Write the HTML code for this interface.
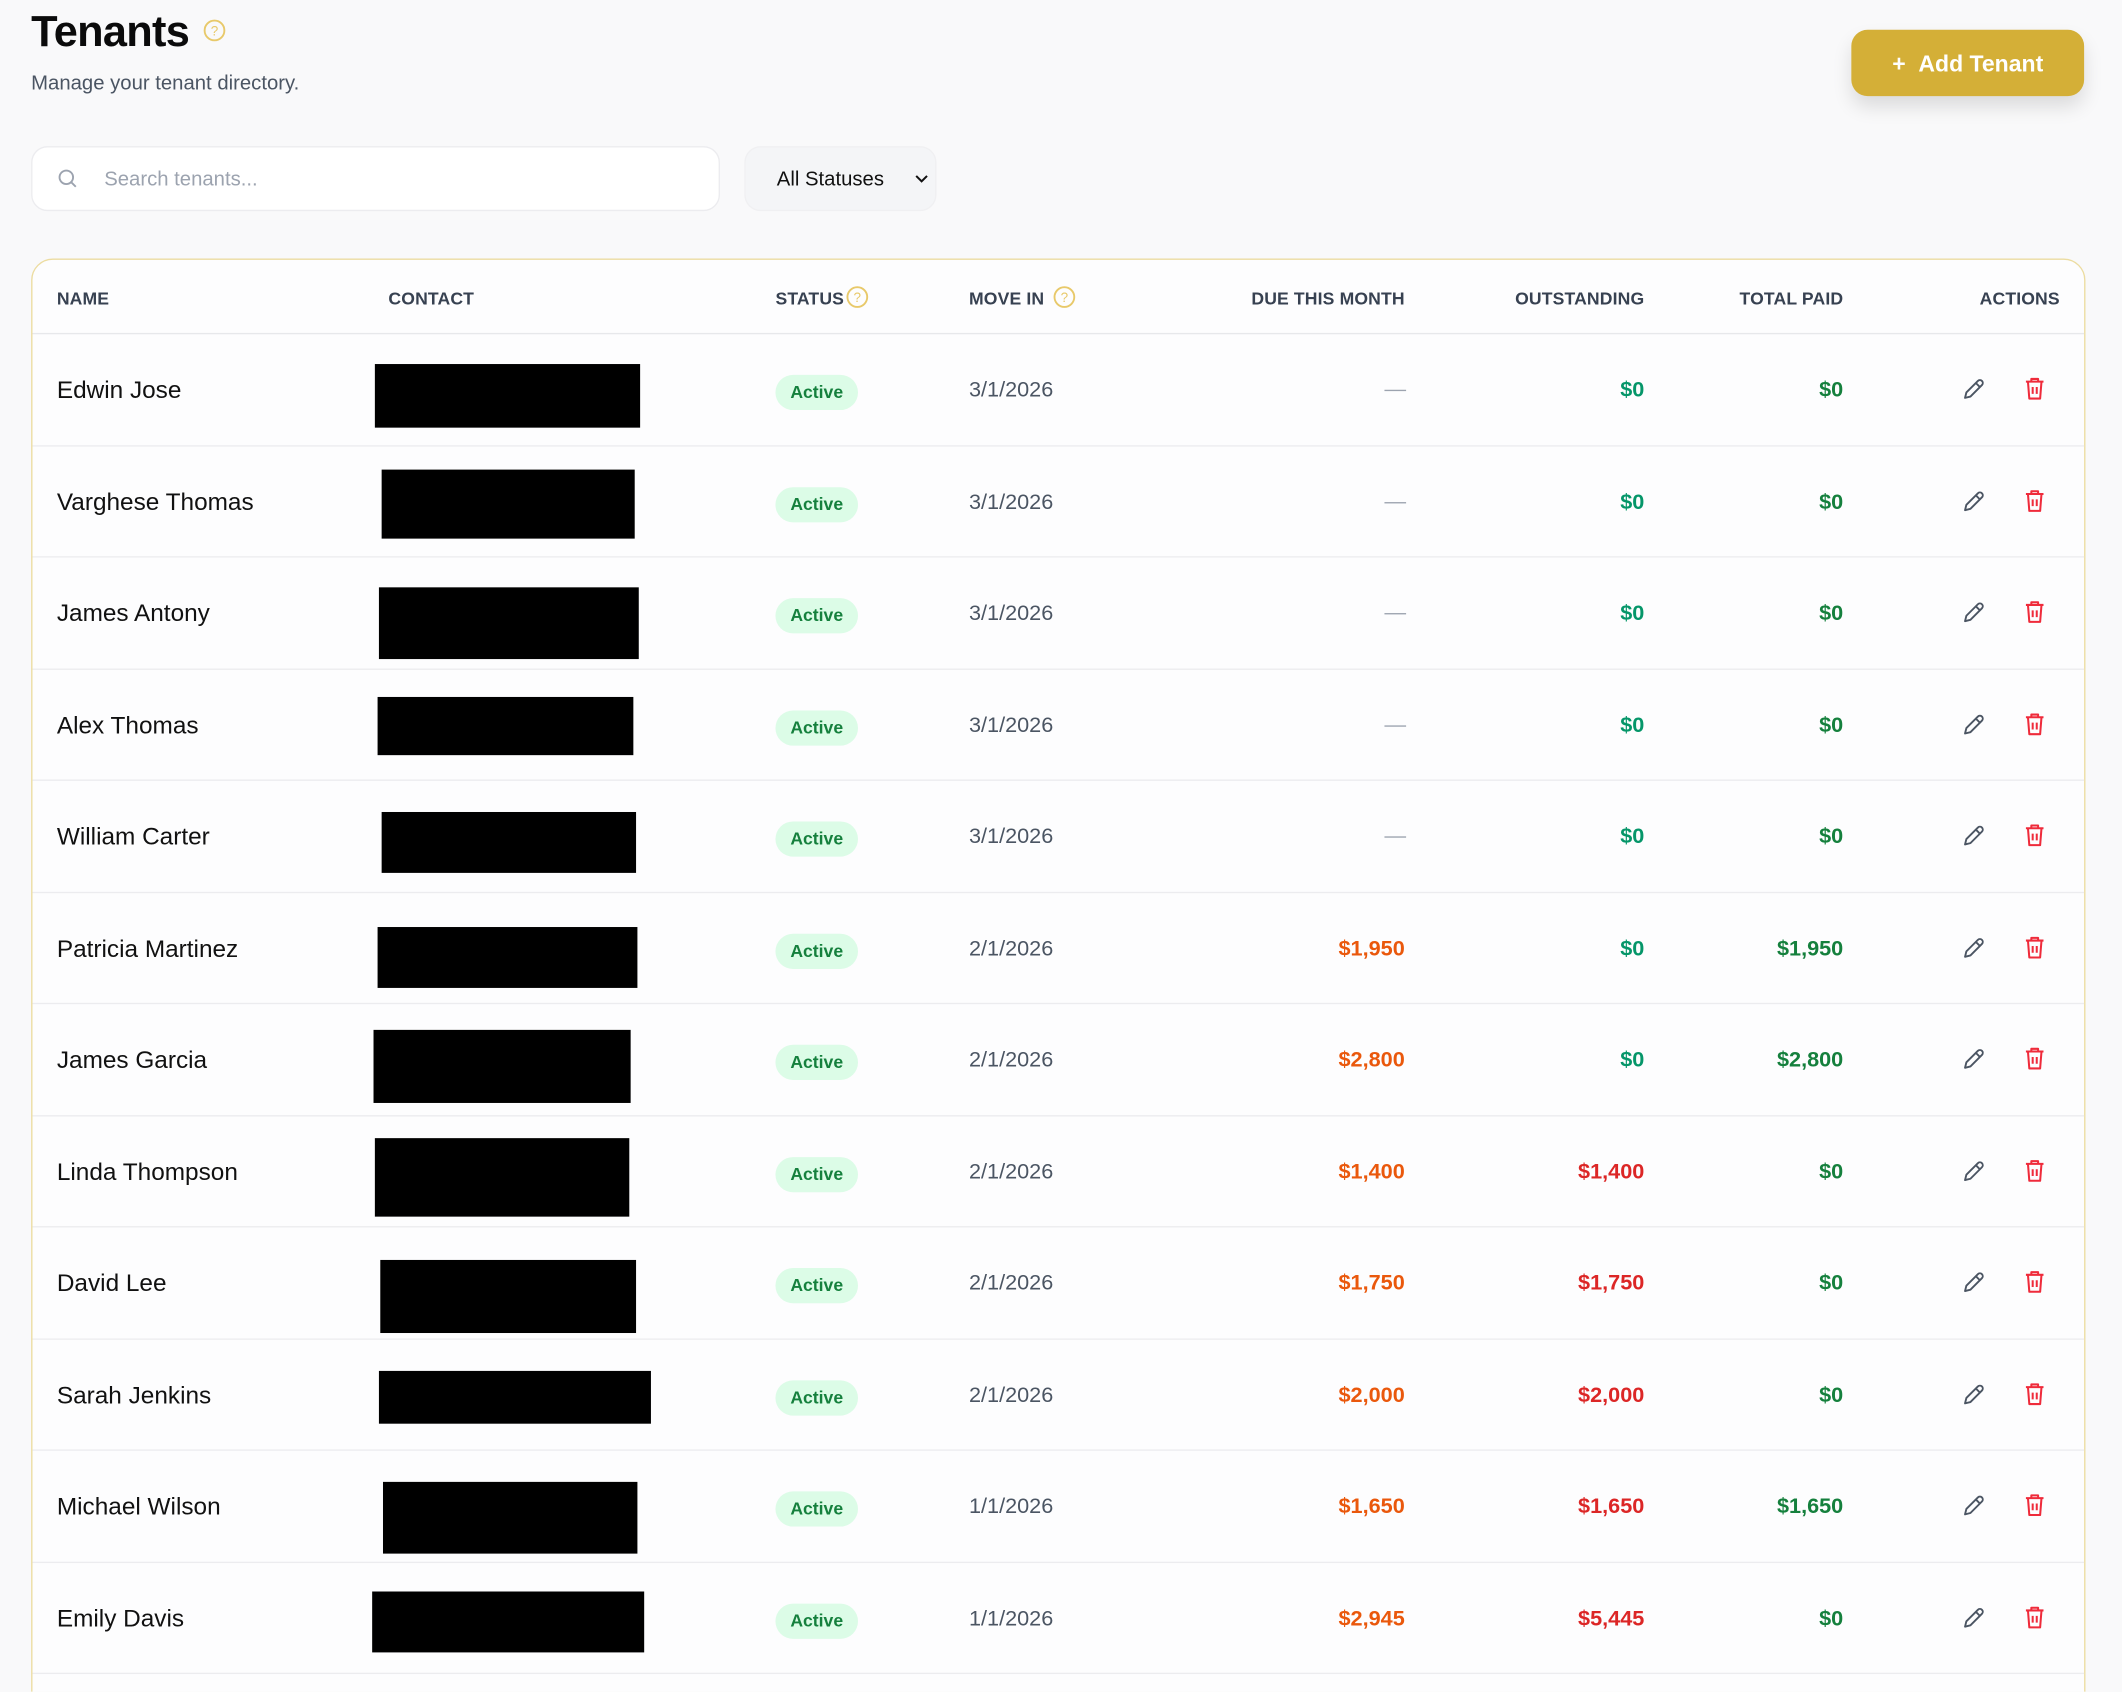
<!DOCTYPE html>
<html><head><meta charset="utf-8"><style>
html,body{margin:0;padding:0;width:2122px;height:1692px;overflow:hidden;background:#f9f9fa;}
#w{position:absolute;left:0;top:0;width:1568px;height:1250px;overflow:hidden;transform:scale(1.35332);transform-origin:0 0;font-family:"Liberation Sans",sans-serif;}
.a{position:absolute;white-space:nowrap;}
.h{font-size:13px;font-weight:bold;color:#374151;top:213px;letter-spacing:0.1px}
.nm{left:19px;font-size:18px;color:#111;}
.bx{background:#000;position:absolute;}
.pill{left:550px;width:61px;height:26px;border-radius:13px;background:#dcfce7;color:#15803d;font-size:13px;font-weight:bold;text-align:center;line-height:26px;}
.dt{left:693px;font-size:16px;color:#4b5563;}
.rt{text-align:right;font-size:16px;font-weight:bold;}
.ic{position:absolute;}
</style></head><body><div id="w">
<div class="a" style="left:23px;top:5px;font-size:32px;font-weight:bold;color:#0b0b0b;letter-spacing:-0.5px">Tenants</div>
<svg class="ic" style="left:150px;top:14px" width="17" height="17" viewBox="0 0 17 17"><circle cx="8.5" cy="8.5" r="7.3" fill="none" stroke="#e8c96a" stroke-width="1.4"/><text x="8.5" y="12.3" font-size="10" text-anchor="middle" fill="#e8c96a" font-family="Liberation Sans">?</text></svg>
<div class="a" style="left:23px;top:53px;font-size:15px;color:#4b5563">Manage your tenant directory.</div>
<div class="a" style="left:1368px;top:22px;width:172px;height:49px;border-radius:12px;background:#d4af37;box-shadow:0 8px 14px rgba(0,0,0,0.12);color:#fff;font-size:17px;font-weight:bold;line-height:51px;text-align:center">+&nbsp;&nbsp;Add Tenant</div>
<div class="a" style="left:23px;top:108px;width:507px;height:46px;border:1px solid #ececef;border-radius:12px;background:#fff"></div>
<svg class="ic" style="left:42px;top:124px" width="16" height="16" viewBox="0 0 16 16"><circle cx="7" cy="7" r="5" fill="none" stroke="#9ca3af" stroke-width="1.4"/><line x1="10.6" y1="10.6" x2="14" y2="14" stroke="#9ca3af" stroke-width="1.4"/></svg>
<div class="a" style="left:77px;top:124px;font-size:15px;color:#9ca3af">Search tenants...</div>
<div class="a" style="left:550px;top:108px;width:140px;height:46px;border:1px solid #f0f0f2;border-radius:12px;background:#f4f5f7"></div>
<div class="a" style="left:574px;top:124px;font-size:15px;color:#111">All Statuses</div>
<svg class="ic" style="left:676px;top:128px" width="10" height="8" viewBox="0 0 10 8"><path d="M1 2 L5 6 L9 2" fill="none" stroke="#111" stroke-width="1.5"/></svg>
<div class="a" style="left:23px;top:191px;width:1516px;height:1100px;border:1px solid #ecdca0;border-radius:16px;background:#fdfdfe"></div>
<div class="a" style="left:24px;top:246px;width:1516px;height:1px;background:#e7e8eb"></div>
<div class="a h" style="left:42px">NAME</div>
<div class="a h" style="left:287px">CONTACT</div>
<div class="a h" style="left:573px">STATUS</div>
<svg class="ic" style="left:625px;top:211px" width="17" height="17" viewBox="0 0 17 17"><circle cx="8.5" cy="8.5" r="7.3" fill="none" stroke="#e8c96a" stroke-width="1.4"/><text x="8.5" y="12.3" font-size="10" text-anchor="middle" fill="#e8c96a" font-family="Liberation Sans">?</text></svg>
<div class="a h" style="left:716px">MOVE IN</div>
<svg class="ic" style="left:778px;top:211px" width="17" height="17" viewBox="0 0 17 17"><circle cx="8.5" cy="8.5" r="7.3" fill="none" stroke="#e8c96a" stroke-width="1.4"/><text x="8.5" y="12.3" font-size="10" text-anchor="middle" fill="#e8c96a" font-family="Liberation Sans">?</text></svg>
<div class="a h" style="right:530px">DUE THIS MONTH</div>
<div class="a h" style="right:353px">OUTSTANDING</div>
<div class="a h" style="right:206px">TOTAL PAID</div>
<div class="a h" style="right:46px">ACTIONS</div>
<div id="rows"></div>
</div>
<script>
var d=[["Edwin Jose",277,473,269,316,"3/1/2026","",0,"$0","$0"],
["Varghese Thomas",282,469,347,398,"3/1/2026","",0,"$0","$0"],
["James Antony",280,472,434,487,"3/1/2026","",0,"$0","$0"],
["Alex Thomas",279,468,515,558,"3/1/2026","",0,"$0","$0"],
["William Carter",282,470,600,645,"3/1/2026","",0,"$0","$0"],
["Patricia Martinez",279,471,685,730,"2/1/2026","$1,950",0,"$0","$1,950"],
["James Garcia",276,466,761,815,"2/1/2026","$2,800",0,"$0","$2,800"],
["Linda Thompson",277,465,841,899,"2/1/2026","$1,400",1,"$1,400","$0"],
["David Lee",281,470,931,985,"2/1/2026","$1,750",1,"$1,750","$0"],
["Sarah Jenkins",280,481,1013,1052,"2/1/2026","$2,000",1,"$2,000","$0"],
["Michael Wilson",283,471,1095,1148,"1/1/2026","$1,650",1,"$1,650","$1,650"],
["Emily Davis",275,476,1176,1221,"1/1/2026","$2,945",1,"$5,445","$0"]];
var h="";
d.forEach(function(r,i){var t=247+i*82.5;var c=Math.round(t+41);
h+='<div class="a" style="left:24px;top:'+(t+81.5)+'px;width:1516px;height:1px;background:#ececef"></div>';
h+='<div class="a nm" style="top:'+(c-10)+'px;left:42px">'+r[0]+'</div>';
h+='<div class="bx" style="left:'+r[1]+'px;width:'+(r[2]-r[1])+'px;top:'+r[3]+'px;height:'+(r[4]-r[3])+'px"></div>';
h+='<div class="a pill" style="left:573px;top:'+(c-11)+'px">Active</div>';
h+='<div class="a dt" style="top:'+(c-8)+'px;left:716px">'+r[5]+'</div>';
if(r[6]) h+='<div class="a rt" style="right:530px;top:'+(c-8)+'px;color:#ea580c">'+r[6]+'</div>';
else h+='<div class="a" style="left:1023px;top:'+c+'px;width:16px;height:1px;background:#9ca3af"></div>';
h+='<div class="a rt" style="right:353px;top:'+(c-8)+'px;color:'+(r[7]?'#dc2626':'#059669')+'">'+r[8]+'</div>';
h+='<div class="a rt" style="right:206px;top:'+(c-8)+'px;color:#15803d">'+r[9]+'</div>';
h+='<svg class="ic" style="left:1449px;top:'+(c-9)+'px" width="18" height="18" viewBox="0 0 18 18"><path d="M3 15 L4 11 L12.5 2.5 A1.6 1.6 0 0 1 15.5 5.5 L7 14 Z M11 4 L14 7" fill="none" stroke="#4b5563" stroke-width="1.4" stroke-linejoin="round"/></svg>';
h+='<svg class="ic" style="left:1495px;top:'+(c-10)+'px" width="17" height="18" viewBox="0 0 17 18"><path d="M2 4 H15 M6 4 V2 H11 V4 M3.5 4 L4.5 16.5 H12.5 L13.5 4 M7 8 V13 M10 8 V13" fill="none" stroke="#ef2b3b" stroke-width="1.5" stroke-linejoin="round"/></svg>';
});
document.getElementById("rows").outerHTML=h;
</script>
</body></html>
